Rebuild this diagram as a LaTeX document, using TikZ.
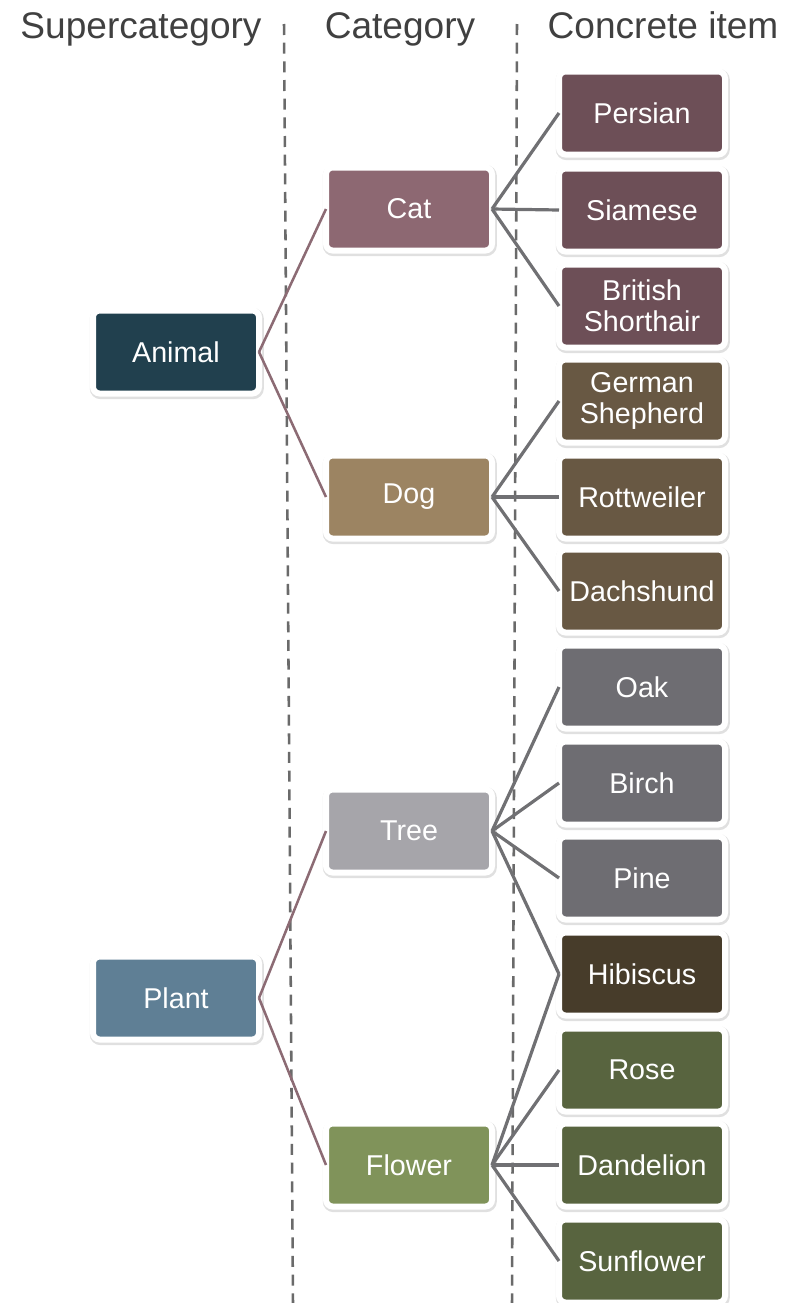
\documentclass[tikz,border=0pt]{standalone}
\usepackage{fontspec}
\setmainfont{Liberation Sans}
\usepackage{tikz}
\usetikzlibrary{shadows}

\definecolor{headc}{HTML}{404040}
\definecolor{divc}{HTML}{6A6A6A}
\definecolor{linkc}{HTML}{707073}
\definecolor{toplinkc}{HTML}{8C6B74}
\definecolor{animalc}{HTML}{21404E}
\definecolor{plantc}{HTML}{5F7F95}
\definecolor{catc}{HTML}{8D6872}
\definecolor{dogc}{HTML}{9C8462}
\definecolor{treec}{HTML}{A6A5AA}
\definecolor{flowerc}{HTML}{80935A}
\definecolor{catitemc}{HTML}{6D4F57}
\definecolor{dogitemc}{HTML}{685843}
\definecolor{treeitemc}{HTML}{6E6D72}
\definecolor{hibiscusc}{HTML}{473C2A}
\definecolor{floweritemc}{HTML}{58643F}

\tikzset{
	box/.style={shape=rectangle, rounded corners=5pt, draw=white, line width=4.5pt,
		outer sep=0pt, inner sep=2pt, minimum width=124.5pt, minimum height=62.25pt,
		text=white, align=center, font=\fontsize{21.5}{23}\selectfont,
		drop shadow={shadow xshift=0.6pt, shadow yshift=-1.2pt, opacity=0.12,
			fill=black, draw=black, line width=6pt}},
	head/.style={anchor=base, text=headc, font=\fontsize{27.8}{30}\selectfont},
	link/.style={draw=linkc, line width=2.4pt},
	toplink/.style={draw=toplinkc, line width=1.9pt},
	divider/.style={draw=divc, line width=1.9pt, dash pattern=on 8.25pt off 5.75pt}
}

\begin{document}
\begin{tikzpicture}[x=0.75pt, y=-0.75pt]
	\useasboundingbox (0,0) rectangle (794,1303);
	
	% column headers and dividers
	\node[head] (hsuper) at (141, 38)    {Supercategory};
	\node[head] (hcat) at (400, 38)      {Category};
	\node[head] (hitem) at (663, 38)     {Concrete item};
	\draw[divider] (284, 24) -- (293, 1303);
	\draw[divider] (517, 24) -- (512, 1303);
	
	\node[box, fill=animalc] (animal) at (176, 352)    {Animal};
	\node[box, fill=plantc] (plant) at (176, 998)      {Plant};
	
	\node[box, fill=catc] (cat) at (409, 209)          {Cat};
	\node[box, fill=dogc] (dog) at (409, 497)          {Dog};
	\node[box, fill=treec] (tree) at (409, 831)        {Tree};
	\node[box, fill=flowerc] (flower) at (409, 1165)   {Flower};
	
	\node[box, fill=catitemc] (persian) at (642, 113)        {Persian};
	\node[box, fill=catitemc] (siamese) at (642, 210)        {Siamese};
	\node[box, fill=catitemc] (british) at (642, 306)        {British\\Shorthair};
	\node[box, fill=dogitemc] (german) at (642, 401)         {German\\Shepherd};
	\node[box, fill=dogitemc] (rottweiler) at (642, 497)     {Rottweiler};
	\node[box, fill=dogitemc] (dachshund) at (642, 591)      {Dachshund};
	\node[box, fill=treeitemc] (oak) at (642, 687)           {Oak};
	\node[box, fill=treeitemc] (birch) at (642, 783)         {Birch};
	\node[box, fill=treeitemc] (pine) at (642, 878)          {Pine};
	\node[box, fill=hibiscusc] (hibiscus) at (642, 974)      {Hibiscus};
	\node[box, fill=floweritemc] (rose) at (642, 1070)       {Rose};
	\node[box, fill=floweritemc] (dandelion) at (642, 1165)  {Dandelion};
	\node[box, fill=floweritemc] (sunflower) at (642, 1261)  {Sunflower};
	
	\path[toplink] (animal.east) edge (cat.west);
	\path[toplink] (animal.east) edge (dog.west);
	\path[toplink] (plant.east) edge (tree.west);
	\path[toplink] (plant.east) edge (flower.west);
	
	\path[link] (cat.east) edge (persian.west);
	\path[link] (cat.east) edge (siamese.west);
	\path[link] (cat.east) edge (british.west);
	\path[link] (dog.east) edge (german.west);
	\path[link] (dog.east) edge (rottweiler.west);
	\path[link] (dog.east) edge (dachshund.west);
	\path[link] (tree.east) edge (oak.west);
	\path[link] (tree.east) edge (birch.west);
	\path[link] (tree.east) edge (pine.west);
	\path[link] (tree.east) edge (hibiscus.west);
	\path[link] (flower.east) edge (hibiscus.west);
	\path[link] (flower.east) edge (rose.west);
	\path[link] (flower.east) edge (dandelion.west);
	\path[link] (flower.east) edge (sunflower.west);
\end{tikzpicture}
\end{document}
